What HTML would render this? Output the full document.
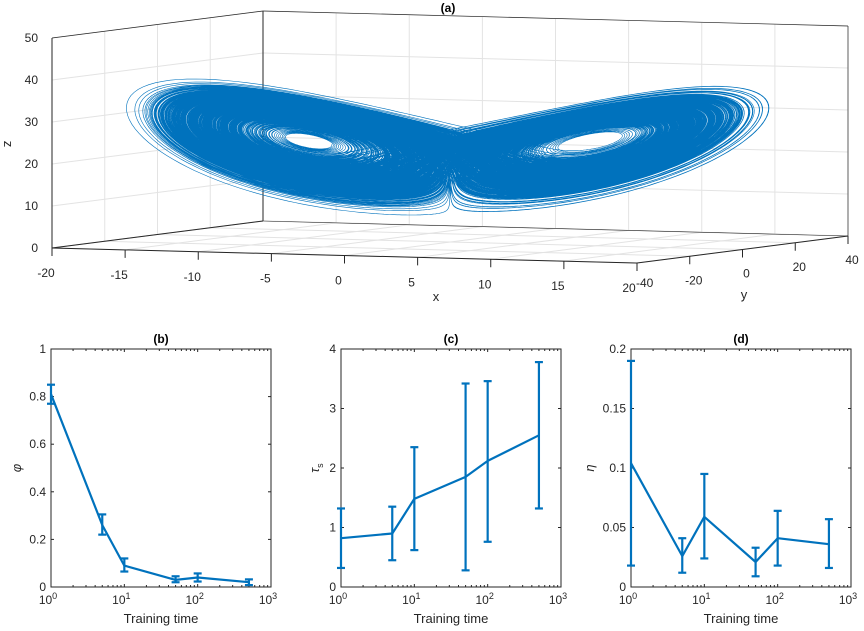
<!DOCTYPE html>
<html><head><meta charset="utf-8"><style>
body{margin:0;background:#fff;}
svg{display:block;font-family:"Liberation Sans",Arial,sans-serif;}
</style></head><body>
<svg id="fig" width="864" height="631" viewBox="0 0 864 631">
<rect width="864" height="631" fill="#fff"/>
</svg>
<script>
// ---------- data ----------
const trainTimes=[1,5,10,50,100,500];
const phiVals=[0.81,0.26,0.09,0.03,0.04,0.02];
const phiHi=[0.85,0.305,0.12,0.045,0.057,0.032];
const phiLo=[0.77,0.22,0.065,0.02,0.023,0.008];
const tauVals=[0.82,0.9,1.48,1.85,2.12,2.55];
const tauHi=[1.32,1.35,2.35,3.42,3.46,3.78];
const tauLo=[0.32,0.45,0.62,0.28,0.76,1.32];
const etaVals=[0.104,0.026,0.059,0.021,0.041,0.036];
const etaHi=[0.19,0.041,0.095,0.033,0.064,0.057];
const etaLo=[0.018,0.012,0.024,0.009,0.018,0.016];
const xTickExp=[0,1,2,3];
const phiTicks=[0,0.2,0.4,0.6,0.8,1];
const tauTicks=[0,1,2,3,4];
const etaTicks=[0,0.05,0.1,0.15,0.2];
const lorenzParams=[10,28,8/3];
const lorenzStart=[1,1,1];
const x3Ticks=[-20,-15,-10,-5,0,5,10,15,20];
const y3Ticks=[-40,-20,0,20,40];
const z3Ticks=[0,10,20,30,40,50];

const NS='http://www.w3.org/2000/svg';
const svg=document.getElementById('fig');
function el(tag,attrs,parent,text){
  const e=document.createElementNS(NS,tag);
  for(const k in attrs)e.setAttribute(k,attrs[k]);
  if(text!==undefined)e.textContent=text;
  (parent||svg).appendChild(e);return e;
}
const BLUE='#0072BD';

// ---------- 3D panel ----------
const g3=el('g',{});


function P(x,y,z){
  return [52+(x+20)*(585/40)+(y+40)*(211/80), 248+(x+20)*(15/40)-(y+40)*(27/80)-z*(210/50)];
}
function ln(a,b,c,parent,w){return el('line',{x1:a[0],y1:a[1],x2:b[0],y2:b[1],stroke:c,'stroke-width':w||1},parent);}
const GRID='#e3e3e3';
z3Ticks.forEach(z=>{ln(P(-20,-40,z),P(-20,40,z),GRID,g3);ln(P(-20,40,z),P(20,40,z),GRID,g3);});
x3Ticks.forEach(x=>{ln(P(x,-40,0),P(x,40,0),GRID,g3);ln(P(x,40,0),P(x,40,50),GRID,g3);});
y3Ticks.forEach(y=>{ln(P(-20,y,0),P(20,y,0),GRID,g3);ln(P(-20,y,0),P(-20,y,50),GRID,g3);});
const EDGE='#262626';
ln(P(-20,-40,0),P(20,-40,0),EDGE,g3);
ln(P(20,-40,0),P(20,40,0),EDGE,g3);
ln(P(-20,-40,0),P(-20,40,0),EDGE,g3);
ln(P(-20,40,0),P(20,40,0),EDGE,g3,0.6);
ln(P(-20,-40,0),P(-20,-40,50),EDGE,g3);
ln(P(-20,40,0),P(-20,40,50),EDGE,g3);
ln(P(-20,-40,50),P(-20,40,50),EDGE,g3,0.7);
ln(P(-20,40,50),P(20,40,50),EDGE,g3,0.7);
ln(P(20,40,0),P(20,40,50),EDGE,g3,0.7);
x3Ticks.forEach(x=>{const p=P(x,-40,0);ln(p,[p[0],p[1]+8],EDGE,g3);
  const t=el('text',{x:p[0]-(x===20?8:6),y:p[1]+29,'font-size':12,fill:'#262626','text-anchor':'middle'},g3,String(x));
  });
y3Ticks.forEach(y=>{const p=P(20,y,0);ln(p,[p[0],p[1]+8],EDGE,g3);
  const t=el('text',{x:p[0]+(y===-40?-1:4),y:p[1]+(y===-40?24:28),'font-size':12,fill:'#262626','text-anchor':y===-40?'start':'middle'},g3,String(y));
  });
z3Ticks.forEach(z=>{const p=P(-20,-40,z);
  const t=el('text',{x:p[0]-14,y:p[1]+4,'font-size':12,fill:'#262626','text-anchor':'end'},g3,String(z));
  });
let t;
t=el('text',{x:436,y:301,'font-size':13,fill:'#262626','text-anchor':'middle'},g3,'x');
t=el('text',{x:744,y:299,'font-size':13,fill:'#262626','text-anchor':'middle'},g3,'y');
t=el('text',{x:4,y:144,'font-size':13,fill:'#262626','text-anchor':'middle',transform:'rotate(90 4 144)'},g3,'z');
t=el('text',{x:448,y:12,'font-size':12,'font-weight':'bold',fill:'#000','text-anchor':'middle'},g3,'(a)');
(function(){
  const [s,r,b]=lorenzParams;let [x,y,z]=lorenzStart;const dt=0.004;
  function f(x,y,z){return [s*(y-x),x*(r-z)-y,x*y-b*z];}
  const parts=[];
  for(let i=0;i<200000;i++){
    const k1=f(x,y,z),k2=f(x+dt/2*k1[0],y+dt/2*k1[1],z+dt/2*k1[2]),
      k3=f(x+dt/2*k2[0],y+dt/2*k2[1],z+dt/2*k2[2]),k4=f(x+dt*k3[0],y+dt*k3[1],z+dt*k3[2]);
    x+=dt/6*(k1[0]+2*k2[0]+2*k3[0]+k4[0]);y+=dt/6*(k1[1]+2*k2[1]+2*k3[1]+k4[1]);z+=dt/6*(k1[2]+2*k2[2]+2*k3[2]+k4[2]);
    if(i<300)continue;
    const p=P(x,y,z);
    const X=451+(p[0]-451)*0.965, Y=148+(p[1]-138)*0.71;
    parts.push((parts.length?'L':'M')+X.toFixed(1)+' '+Y.toFixed(1));
  }
  const path=el('path',{d:parts.join(''),fill:'none',stroke:BLUE,'stroke-width':0.6},g3);
  
  
})();

// ---------- 2D panels ----------
function panel(left,name,title,ylab,yTicks,ymax,vals,hi,lo,tickFmt){
  const top=349,bottom=587,right=left+220;
  const g=el('g',{});
  
  
  const sx=v=>left+(Math.log10(v)/3)*(right-left);
  const sy=v=>bottom-(v/ymax)*(bottom-top);
  el('rect',{x:left,y:top,width:right-left,height:bottom-top,fill:'#fff',stroke:'#262626','stroke-width':1},g);
  yTicks.forEach(v=>{const y=sy(v);
    ln([left,y],[left+3,y],'#262626',g);ln([right,y],[right-3,y],'#262626',g);
    const tt=el('text',{x:left-5,y:y+4,'font-size':12,fill:'#262626','text-anchor':'end'},g,tickFmt(v));
    });
  xTickExp.forEach(e=>{const x=sx(Math.pow(10,e));
    ln([x,bottom],[x,bottom-3],'#262626',g);ln([x,top],[x,top+3],'#262626',g);
    for(let m=2;m<10&&e<3;m++){const xm=sx(m*Math.pow(10,e));ln([xm,bottom],[xm,bottom-2],'#262626',g);ln([xm,top],[xm,top+2],'#262626',g);}
    const tt=el('text',{x:x-3,y:bottom+17,'font-size':12,fill:'#262626','text-anchor':'middle'},g,'10');
    
    el('tspan',{dy:-5,'font-size':9},tt,String(e));});
  let tt=el('text',{x:(left+right)/2,y:bottom+36,'font-size':13,fill:'#262626','text-anchor':'middle'},g,'Training time');
  
  tt=el('text',{x:(left+right)/2,y:top-6,'font-size':12,'font-weight':'bold',fill:'#000','text-anchor':'middle'},g,title);
  
  const yl=left-(ymax===0.2?37:ymax===1?30:22), ym=(top+bottom)/2;
  tt=el('text',{x:yl,y:ym,'font-size':13,'font-style':'italic',fill:'#262626','text-anchor':'middle',transform:`rotate(-90 ${yl} ${ym})`},g,ylab[0]);
  
  if(ylab[1]){el('tspan',{dy:4,'font-size':9,'font-style':'normal'},tt,ylab[1]);}
  const pts=trainTimes.map((x,i)=>sx(x).toFixed(1)+','+sy(vals[i]).toFixed(1)).join(' ');
  const pl=el('polyline',{points:pts,fill:'none',stroke:BLUE,'stroke-width':2.2,'stroke-linejoin':'round'},g);
  
  trainTimes.forEach((x,i)=>{
    const cx=sx(x);const eg=el('g',{},g);
    
    ln([cx,sy(lo[i])],[cx,sy(hi[i])],BLUE,eg,2.2);
    ln([cx-4,sy(lo[i])],[cx+4,sy(lo[i])],BLUE,eg,2.2);
    ln([cx-4,sy(hi[i])],[cx+4,sy(hi[i])],BLUE,eg,2.2);
  });
}
panel(51,'panel-b-phi','(b)',['φ'],phiTicks,1,phiVals,phiHi,phiLo,v=>String(v));
panel(341,'panel-c-tau','(c)',['τ','s'],tauTicks,4,tauVals,tauHi,tauLo,v=>String(v));
panel(631,'panel-d-eta','(d)',['η'],etaTicks,0.2,etaVals,etaHi,etaLo,v=>String(v));
</script>
</body></html>
